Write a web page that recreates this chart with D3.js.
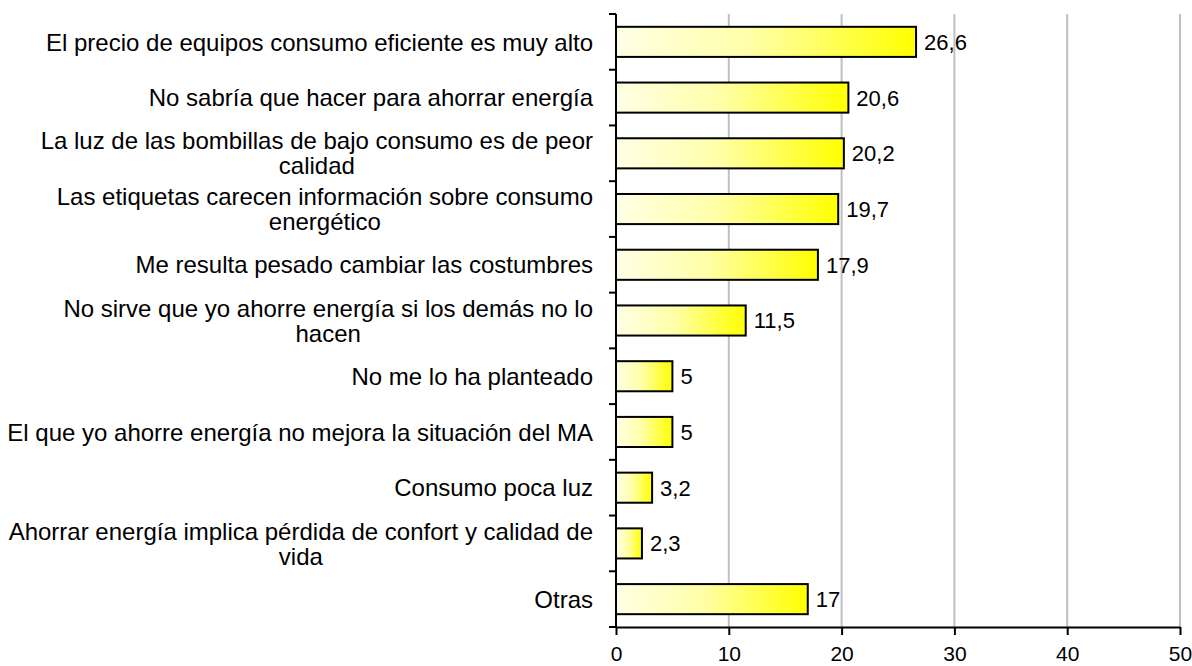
<!DOCTYPE html>
<html>
<head>
<meta charset="utf-8">
<script src="https://cdn.jsdelivr.net/npm/d3@7"></script>
<style>
  body { margin: 0; background: #fff; }
  text { font-family: "Liberation Sans", Arial, sans-serif; }
</style>
</head>
<body>
<div id="chart"></div>
<script>
// DATA
const labels = [
    ["El precio de equipos consumo eficiente es muy alto"],
    ["No sabría que hacer para ahorrar energía"],
    ["La luz de las bombillas de bajo consumo es de peor", "calidad"],
    ["Las etiquetas carecen información sobre consumo", "energético"],
    ["Me resulta pesado cambiar las costumbres"],
    ["No sirve que yo ahorre energía si los demás no lo", "hacen"],
    ["No me lo ha planteado"],
    ["El que yo ahorre energía no mejora la situación del MA"],
    ["Consumo poca luz"],
    ["Ahorrar energía implica pérdida de confort y calidad de", "vida"],
    ["Otras"]
];
const values = [26.6, 20.6, 20.2, 19.7, 17.9, 11.5, 5, 5, 3.2, 2.3, 17];
const xTicks = [0, 10, 20, 30, 40, 50];

const data = labels.map((l, i) => ({ id: i, lines: l, value: values[i] }));

// SVG
const margin = { top: 14, right: 12, bottom: 39, left: 616 };
const W = 1192, H = 666;
const width = W - margin.left - margin.right;
const height = H - margin.top - margin.bottom;

const svgRoot = d3.select("#chart").append("svg")
    .attr("width", W)
    .attr("height", H);

const defs = svgRoot.append("defs");
const grad = defs.append("linearGradient")
    .attr("id", "barGrad")
    .attr("x1", "0%").attr("x2", "100%")
    .attr("y1", "0%").attr("y2", "0%");
grad.append("stop").attr("offset", "0%").attr("stop-color", "#ffffe6");
grad.append("stop").attr("offset", "45%").attr("stop-color", "#ffffa8");
grad.append("stop").attr("offset", "100%").attr("stop-color", "#ffff00");

const svg = svgRoot.append("g")
    .attr("transform", `translate(${margin.left},${margin.top})`);

// SCALES
const xs = d3.scaleLinear().domain([0, 50]).range([0, width]);
const ys = d3.scaleBand()
    .domain(data.map(d => d.id))
    .range([0, height])
    .paddingInner(0.46)
    .paddingOuter(0.23);

// gridlines
svg.append("g")
    .selectAll("line")
    .data(xTicks.slice(1))
    .enter()
    .append("line")
    .attr("x1", d => xs(d)).attr("x2", d => xs(d))
    .attr("y1", 0).attr("y2", height)
    .attr("stroke", "#c0c0c0")
    .attr("stroke-width", 2);

// x axis
const xAxis = svg.append("g")
    .attr("transform", `translate(0,${height})`)
    .call(d3.axisBottom(xs).tickValues(xTicks).tickSize(8).tickPadding(11).tickSizeOuter(0));
xAxis.select(".domain").attr("stroke", "#000").attr("stroke-width", 2);
xAxis.selectAll(".tick line").attr("stroke", "#000").attr("stroke-width", 2);
xAxis.selectAll(".tick text")
    .style("font-size", "21px")
    .style("font-family", "'Liberation Sans', Arial, sans-serif")
    .attr("fill", "#000");

// y axis: line with category separator ticks
svg.append("line")
    .attr("x1", 0).attr("x2", 0)
    .attr("y1", 0).attr("y2", height)
    .attr("stroke", "#000").attr("stroke-width", 2);
svg.append("g")
    .selectAll("line")
    .data(d3.range(data.length + 1))
    .enter()
    .append("line")
    .attr("x1", -7).attr("x2", 0)
    .attr("y1", i => i * height / data.length)
    .attr("y2", i => i * height / data.length)
    .attr("stroke", "#000").attr("stroke-width", 2);

// BARS
svg.append("g")
    .selectAll("rect")
    .data(data)
    .enter()
    .append("rect")
    .attr("x", xs(0))
    .attr("y", d => ys(d.id))
    .attr("width", d => xs(d.value) - xs(0))
    .attr("height", ys.bandwidth())
    .attr("fill", "url(#barGrad)")
    .attr("stroke", "#000")
    .attr("stroke-width", 2);

// value labels
svg.append("g")
    .selectAll("text")
    .data(data)
    .enter()
    .append("text")
    .attr("x", d => xs(d.value) + 8)
    .attr("y", d => ys(d.id) + ys.bandwidth() / 2)
    .attr("dy", "0.36em")
    .style("font-size", "22px")
    .attr("fill", "#000")
    .text(d => String(d.value).replace(".", ","));

// category labels
const lineH = 25;
const catG = svg.append("g");
data.forEach(d => {
    const cy = ys(d.id) + ys.bandwidth() / 2;
    const t = catG.append("text")
        .style("font-size", "24px")
        .attr("fill", "#000")
        .attr("text-anchor", "middle");
    const n = d.lines.length;
    d.lines.forEach((ln, j) => {
        t.append("tspan")
            .attr("y", cy + (j - (n - 1) / 2) * lineH)
            .attr("dy", "0.36em")
            .text(ln);
    });
    // widest line -> centre of block, right edge at -23
    let w = 0;
    t.selectAll("tspan").each(function () {
        w = Math.max(w, this.getComputedTextLength());
    });
    t.selectAll("tspan").attr("x", -23 - w / 2);
});
</script>
</body>
</html>
